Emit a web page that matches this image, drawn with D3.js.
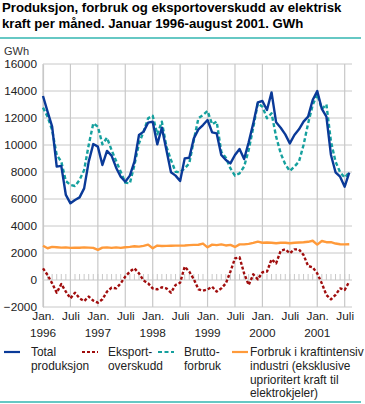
<!DOCTYPE html>
<html><head><meta charset="utf-8">
<script src="https://cdn.jsdelivr.net/npm/d3@7"></script>
<style>body{margin:0;background:#fff;} text{font-family:"Liberation Sans",Arial,sans-serif;}</style>
</head><body>
<svg id="c" width="365" height="404"></svg>
<script>
const titleLines = ["Produksjon, forbruk og eksportoverskudd av elektrisk", "kraft per måned. Januar 1996-august 2001. GWh"];
const unit = "GWh";
const yTicks = [-2000, 0, 2000, 4000, 6000, 8000, 10000, 12000, 14000, 16000];
const xTickMonths = [0, 6, 12, 18, 24, 30, 36, 42, 48, 54, 60, 66];
const xTickLabels = ["Jan.", "Juli", "Jan.", "Juli", "Jan.", "Juli", "Jan.", "Juli", "Jan.", "Juli", "Jan.", "Juli"];
const yearLabels = ["1996", "", "1997", "", "1998", "", "1999", "", "2000", "", "2001", ""];

const production = [13630,12470,11360,8400,8450,6300,5680,5930,6120,6790,8770,10070,
  9880,8520,9560,9210,8320,7650,7280,7730,8770,10740,10990,11660,
  11730,10050,11280,9630,7980,7730,7330,9010,9060,10490,11160,11480,
  11850,10940,10860,9260,8890,8640,9260,9700,8960,10200,11600,13160,
  13260,12590,13900,11680,11280,10790,10120,10740,11160,11730,12100,13330,
  14000,12670,12100,9260,7980,7650,6910,7950];
const exportSurplus = [860,370,-250,-940,-300,-860,-1360,-940,-1360,-1560,-1230,-1530,
  -1680,-1430,-860,-570,-620,-250,250,620,860,490,-40,-250,
  -620,-690,-540,-620,-940,-370,-200,990,620,50,-690,-790,
  -690,-500,-860,-620,-250,620,1600,1680,490,-370,420,50,
  570,620,1530,1230,2170,2270,1980,2270,2270,1850,1040,940,
  490,-250,-1110,-1430,-1110,-620,-740,-120];
const grossConsumption = [12770,12100,11110,9260,8770,7330,7040,6960,7410,8150,10000,11600,
  11360,10050,10540,9630,8810,8020,7210,7160,8520,10120,10990,11980,
  12170,10790,11730,9880,8890,8020,7980,8270,8640,10370,11980,12220,
  12520,11530,11730,9500,9060,8270,7730,7900,8400,9630,11300,13090,
  12840,11980,12350,10620,9380,8570,8070,8400,8770,10000,11600,12960,
  13750,12670,13010,10250,8770,7980,7580,7980];
const industryUse = [2540,2350,2450,2430,2400,2420,2380,2400,2390,2420,2400,2380,
  2230,2400,2420,2380,2420,2380,2430,2450,2500,2470,2530,2620,
  2350,2550,2520,2530,2540,2550,2550,2560,2580,2600,2610,2700,
  2420,2620,2580,2640,2560,2600,2450,2640,2640,2680,2750,2840,
  2760,2780,2760,2720,2760,2760,2720,2760,2780,2800,2830,2910,
  2620,2890,2800,2800,2700,2650,2640,2650];
const months = d3.range(production.length);

const series = [
  {name: ["Total", "produksjon"], values: production, color: "#0a3a98", dash: null, lx: 4, tx: 31},
  {name: ["Eksport-", "overskudd"], values: exportSurplus, color: "#a00d0d", dash: "3,2", lx: 82, tx: 108},
  {name: ["Brutto-", "forbruk"], values: grossConsumption, color: "#15a09e", dash: "4,2.5", lx: 158, tx: 184},
  {name: ["Forbruk i kraftintensiv", "industri (eksklusive", "uprioritert kraft til", "elektrokjeler)"], values: industryUse, color: "#ff9a3a", dash: null, lx: 232, tx: 250}
];

const svg = d3.select("#c");
const x = d3.scaleLinear().domain([0, 67.6]).range([43, 352]);
const y = d3.scaleLinear().domain([-2000, 16000]).range([307, 64]);

// title
svg.append("text").attr("x", 2).attr("y", 12).attr("font-size", 13.2).attr("font-weight", "bold").attr("fill", "#000").text(titleLines[0]);
svg.append("text").attr("x", 2).attr("y", 28).attr("font-size", 13.2).attr("font-weight", "bold").attr("fill", "#000").text(titleLines[1]);
svg.append("rect").attr("x", 0).attr("y", 37).attr("width", 361).attr("height", 2).attr("fill", "#66c8c4");
svg.append("text").attr("x", 4).attr("y", 55).attr("font-size", 11).attr("fill", "#333").text(unit);

// grid
const g = svg.append("g");
g.selectAll(".hg").data(yTicks).join("line")
  .attr("x1", x(0)).attr("x2", 352).attr("y1", d => y(d)).attr("y2", d => y(d))
  .attr("stroke", "#c8c8c8").attr("stroke-width", 1);
g.selectAll(".vg").data(xTickMonths).join("line")
  .attr("x1", d => x(d)).attr("x2", d => x(d)).attr("y1", y(16000)).attr("y2", y(-2000))
  .attr("stroke", "#c8c8c8").attr("stroke-width", 1.2);
// monthly minor ticks on zero line
g.selectAll(".mt").data(months).join("line")
  .attr("x1", d => x(d)).attr("x2", d => x(d)).attr("y1", y(0)).attr("y2", y(0) - 6)
  .attr("stroke", "#c8c8c8").attr("stroke-width", 1);

// y axis
const yAxis = d3.axisLeft(y).tickValues(yTicks).tickSize(0).tickPadding(6).tickFormat(d3.format("d"));
const ya = svg.append("g").attr("transform", `translate(${x(0)},0)`).call(yAxis);
ya.select(".domain").attr("stroke", "#c8c8c8").attr("stroke-width", 1.2);
ya.selectAll("text").attr("font-size", 11.8).attr("fill", "#222").attr("font-family", "Liberation Sans, Arial, sans-serif");

// x axis
const xAxis = d3.axisBottom(x).tickValues(xTickMonths).tickSize(0).tickPadding(5).tickFormat((d, i) => xTickLabels[i]);
const xa = svg.append("g").attr("transform", `translate(0,${y(-2000)})`).call(xAxis);
xa.select(".domain").remove();
xa.selectAll("text").attr("font-size", 11.8).attr("fill", "#222").attr("font-family", "Liberation Sans, Arial, sans-serif");
svg.selectAll(".yr").data(xTickMonths).join("text")
  .attr("x", d => x(d)).attr("y", 337).attr("text-anchor", "middle")
  .attr("font-size", 11.8).attr("fill", "#222").text((d, i) => yearLabels[i]);

// lines
const order = [3, 1, 2, 0];
const line = vals => d3.line().x((d, i) => x(months[i])).y(d => y(d))(vals);
order.forEach(k => {
  const s = series[k];
  svg.append("path").attr("d", line(s.values)).attr("fill", "none")
    .attr("stroke", s.color).attr("stroke-width", 2.4)
    .attr("stroke-dasharray", s.dash).attr("stroke-linejoin", "round");
});

// legend
series.forEach(s => {
  svg.append("line").attr("x1", s.lx).attr("x2", s.lx + 16).attr("y1", 352).attr("y2", 352)
    .attr("stroke", s.color).attr("stroke-width", 2.2).attr("stroke-dasharray", s.dash);
  s.name.forEach((t, j) => {
    svg.append("text").attr("x", s.tx).attr("y", 356 + j * 13.8).attr("font-size", 11.9).attr("fill", "#222").text(t);
  });
});
svg.append("rect").attr("x", 0).attr("y", 401).attr("width", 361).attr("height", 2).attr("fill", "#66c8c4");
</script>
</body></html>
